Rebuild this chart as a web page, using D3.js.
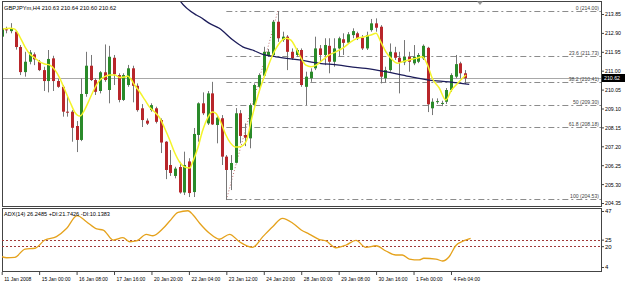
<!DOCTYPE html>
<html>
<head>
<meta charset="utf-8">
<script src="https://cdn.jsdelivr.net/npm/d3@7/dist/d3.min.js"></script>
<style>
body { margin: 0; background: #fff; }
svg text { font-family: "Liberation Sans", Arial, sans-serif; font-size: 6px; fill: #000; }
</style>
</head>
<body>
<div id="chart"></div>
<script>
// GBPJPYm H4 candles
const opens = [212.71,213.08,212.99,212.96,212.19,210.93,211.45,211.82,211.45,211.03,
  210.48,211.62,210.48,210.19,208.94,208.94,208.22,207.52,209.83,211.25,
  210.53,209.98,210.92,210.03,211.65,210.78,209.53,210.28,211.12,210.24,
  209.11,208.49,209.02,209.11,208.52,207.43,206.26,205.71,206.16,204.88,
  206.44,204.90,207.77,209.36,208.35,209.86,208.27,208.61,206.68,206.01,
  206.37,208.86,207.77,207.60,209.27,210.19,210.75,211.75,211.79,213.46,
  212.54,212.71,211.95,211.79,212.04,210.19,210.62,211.12,212.12,211.79,
  212.25,211.45,212.12,212.58,212.41,212.79,212.88,212.66,212.12,213.04,
  213.38,213.21,210.62,211.03,211.92,211.65,211.42,211.70,211.37,211.45,
  211.62,212.15,209.11,209.44,209.36,209.44,210.03,210.70,211.37,210.87];
const highs = [213.19,213.21,213.39,213.04,212.29,211.95,212.04,211.92,211.54,211.20,
  212.04,211.75,210.58,210.28,209.69,209.02,208.47,210.62,211.95,211.79,
  210.62,210.98,212.32,212.25,211.79,210.87,210.87,211.29,211.25,210.36,
  209.32,208.60,209.36,209.19,208.60,207.46,207.01,206.17,206.42,206.93,
  206.60,208.12,209.41,209.91,209.98,210.44,208.77,208.77,206.76,206.76,
  209.12,209.02,208.35,209.36,210.36,210.87,212.20,212.09,213.55,214.00,
  212.96,212.79,212.12,212.12,212.12,210.95,211.12,212.71,212.29,212.63,
  212.63,212.63,212.71,212.88,212.94,213.13,212.96,212.79,212.96,213.60,
  213.63,213.29,211.20,212.37,212.20,211.95,212.54,211.95,212.29,211.89,
  212.32,212.20,209.61,209.61,209.49,210.13,210.87,211.79,211.45,211.03];
const lows = [212.64,212.88,212.88,212.06,210.78,210.70,211.32,211.28,210.98,209.98,
  209.91,209.98,210.14,208.69,208.69,207.43,206.91,207.46,209.69,210.48,
  209.78,209.86,210.44,209.36,210.28,209.41,209.48,210.19,209.41,208.94,
  208.17,208.27,208.94,208.35,206.86,205.55,205.71,205.59,204.82,204.75,
  204.65,204.65,207.43,208.77,208.27,208.27,207.35,206.26,204.50,205.00,
  206.34,207.35,207.21,207.10,209.19,210.11,210.70,211.69,211.70,212.45,
  212.45,211.03,211.54,211.70,210.19,209.27,210.44,211.03,211.45,211.28,
  210.87,211.20,211.70,211.79,212.37,212.63,212.54,212.04,212.04,212.96,
  212.96,210.36,210.41,210.95,211.54,209.86,211.28,210.95,211.28,211.38,
  211.54,208.92,208.77,209.33,209.22,209.33,209.94,210.62,210.62,210.33];
const closes = [213.13,213.06,213.12,212.19,210.93,211.45,211.92,211.57,211.03,210.48,
  211.59,210.48,210.19,208.94,208.92,208.13,207.52,209.83,211.25,210.53,
  209.94,210.92,210.53,211.70,210.82,209.53,210.78,211.12,210.24,209.02,
  208.52,208.34,209.27,208.43,207.39,206.01,205.86,206.08,204.88,206.26,
  204.85,207.82,209.36,208.86,209.86,208.30,208.64,206.68,206.01,206.36,
  208.86,207.72,207.63,209.27,210.28,210.78,211.95,211.95,213.46,212.63,
  212.71,211.95,211.62,212.04,210.28,210.70,210.95,212.12,211.79,212.29,
  211.45,212.12,212.63,212.40,212.83,212.99,212.63,212.12,212.79,213.38,
  213.16,210.70,211.03,211.95,211.65,211.42,211.70,211.45,211.70,211.79,
  212.25,209.31,209.44,209.47,209.38,210.03,210.78,211.33,210.87,210.62];

// yellow fast MA (bar position, price)
const fastPos = [0,1.8,2.8,3.9,5,6,7.1,8.2,9.2,10.3,11.4,12.4,13.5,14.6,15.6,16.7,17.8,18.8,19.9,21,
  22,23.1,24.2,25.2,26.3,26.9,27.6,28.4,29.5,30.6,31.6,32.7,33.8,34.8,35.9,36.9,38,39.1,40.2,40.8,
  41.9,42.9,44,45,45.7,46.8,47.8,48.9,50,51,52.2,53.6,55,56.5,57.9,59.3,60.8,61.8,62.9,64,
  65,66.1,67.2,68.6,70,71.4,72.8,74.6,76,77.5,78.9,80,81,82.1,83.2,84.6,85.6,87,88.5,89.9,
  91,92,93.5,94.9,96,97.4,99.2];
const fastVal = [213.09,213.13,213.09,212.69,212.19,211.84,211.64,211.43,211.34,211.28,211.03,210.63,210.03,209.43,208.92,208.72,209.07,209.58,210.13,210.53,
  210.70,210.78,210.78,210.66,210.68,210.73,210.58,210.28,209.93,209.53,209.17,208.92,208.62,208.12,207.52,206.91,206.41,206.16,206.11,206.41,
  207.11,207.97,208.62,208.92,208.87,208.42,207.82,207.36,207.16,207.18,207.43,208.77,209.94,210.95,211.79,212.37,212.63,212.54,212.12,211.62,
  211.28,211.20,211.28,211.54,211.79,211.95,212.12,212.45,212.63,212.71,212.79,212.88,212.45,211.95,211.62,211.37,211.45,211.54,211.62,211.70,
  211.28,210.62,210.13,209.53,209.98,210.36,210.78];

// navy slow MA
const slowPos = [37,38,41.6,42.3,44.4,46.5,49.4,51.5,53.6,55.8,58.6,63.6,67.9,72.1,74.3,77.8,82.1,87,91.3,95.6,99.9];
const slowVal = [214.95,214.55,213.80,213.71,213.38,213.13,212.54,212.20,212.04,211.82,211.70,211.54,211.37,211.28,211.20,211.12,210.95,210.71,210.53,210.44,210.31];

// ADX(14)
const adxPos = [0,1.1,2.8,5,7.1,9.2,11.7,13.9,16.1,18.1,20.3,21.7,23.8,25.9,27.4,28.8,30.9,32.3,34.5,35.9,
  37.7,39.8,40.9,42.3,44.4,46.5,48.7,50.8,53.6,55.8,57.9,60,62.2,64,65.7,67.9,69.3,71.4,73.6,75.7,
  77.8,80,82.1,84.2,85.6,87.1,89.2,90.2,92.8,94.2,95.6,97,99.1,100.2];
const adxVal = [11.9,11.1,11.4,17.8,18.4,24.7,27.3,33.7,43.4,38.8,33.2,32.4,24.7,26.5,23.4,24.0,29.1,28.0,33.7,39.3,
  46.0,47.2,43.9,37.6,29.9,25.3,29.1,23.4,19.1,27.3,34.9,41.4,37.6,32.4,29.3,25.1,24.0,18.8,20.9,24.5,
  19.1,20.3,16.3,13.2,13.2,10.1,9.4,10.7,10.1,8.6,11.9,20.3,24.7,26.0];

const priceTicks = [213.85,212.90,211.95,211.00,210.05,209.10,208.15,207.20,206.25,205.30,204.35];
const adxTicks = [47,25,20,4];
const adxLevels = [25,20];
const fibLabels = ["0 (214.00)","23.6 (211.73)","38.2 (210.41)","50 (209.30)","61.8 (208.18)","100 (204.53)"];
const fibValues = [214.00,211.73,210.41,209.30,208.18,204.53];
const timeTicks = [0,8,16,24,32,40,48,56,64,72,80,88,96];
const timeLabels = ["11 Jan 2008","15 Jan 00:00","16 Jan 08:00","17 Jan 16:00","20 Jan 20:00","22 Jan 04:00",
  "23 Jan 12:00","24 Jan 20:00","28 Jan 00:00","29 Jan 08:00","30 Jan 16:00","1 Feb 00:00","4 Feb 04:00"];
const lastPrice = 210.62;

var width = 625, height = 282;
var left = 2, right = 601;
var mainTop = 1, mainBottom = 206, adxTop = 208, adxBottom = 271;

const svg = d3.select("#chart").append("svg")
    .attr("width", width).attr("height", height);
svg.append("rect").attr("width", width).attr("height", height).attr("fill", "#fff");

const x = d3.scaleLinear().domain([0, 99]).range([1.7, 1.7 + 99 * 4.68]);
const y = d3.scaleLinear().domain([204.35, 213.85]).range([203, 14]);
const ya = d3.scaleLinear().domain([4, 47]).range([267, 211]);

function squeeze(sel, k) {
    sel.each(function () {
        var w = this.getComputedTextLength();
        this.setAttribute("textLength", w * k);
        this.setAttribute("lengthAdjust", "spacingAndGlyphs");
    });
}

var defs = svg.append("defs");
defs.append("clipPath").attr("id", "clipMain").append("rect")
    .attr("x", left).attr("y", mainTop).attr("width", right - left).attr("height", mainBottom - mainTop);
defs.append("clipPath").attr("id", "clipAdx").append("rect")
    .attr("x", left).attr("y", adxTop).attr("width", right - left).attr("height", adxBottom - adxTop);

const main = svg.append("g").attr("clip-path", "url(#clipMain)");

// current price line
main.append("line")
    .attr("x1", left).attr("x2", right)
    .attr("y1", Math.round(y(lastPrice)) + 0.5).attr("y2", Math.round(y(lastPrice)) + 0.5)
    .attr("stroke", "#a8a8a8").attr("stroke-width", 1);

// fibo levels
const fibStart = x(48);
main.selectAll(".fib").data(fibValues).enter().append("line")
    .attr("x1", fibStart).attr("x2", right)
    .attr("y1", d => Math.round(y(d)) + 0.5).attr("y2", d => Math.round(y(d)) + 0.5)
    .attr("stroke", "#8c8c8c").attr("stroke-width", 1)
    .attr("stroke-dasharray", "6,3,2,3");

const fibText = main.selectAll(".fibt").data(fibValues).enter().append("text")
    .attr("x", right - 2).attr("y", d => Math.round(y(d)) - 1)
    .attr("text-anchor", "end")
    .style("fill", "#444")
    .text((d, i) => fibLabels[i]);
squeeze(fibText, 0.85);

// trend line low -> high
main.append("line")
    .attr("x1", x(48)).attr("y1", y(d3.min(lows)))
    .attr("x2", x(59)).attr("y2", y(d3.max(highs)))
    .attr("stroke", "#c07070").attr("stroke-width", 1)
    .attr("stroke-dasharray", "1,2");

// candles
const bars = d3.range(opens.length);
main.selectAll(".wick").data(bars).enter().append("line")
    .attr("x1", i => Math.round(x(i)) + 0.5).attr("x2", i => Math.round(x(i)) + 0.5)
    .attr("y1", i => y(highs[i])).attr("y2", i => y(lows[i]))
    .attr("stroke", "#777").attr("stroke-width", 1);

main.selectAll(".body").data(bars).enter().append("rect")
    .attr("x", i => Math.round(x(i)) - 1)
    .attr("width", 3)
    .attr("y", i => y(Math.max(opens[i], closes[i])))
    .attr("height", i => Math.max(1, Math.abs(y(opens[i]) - y(closes[i]))))
    .attr("fill", i => closes[i] > opens[i] ? "#2a8a2a" : (closes[i] < opens[i] ? "#b8262a" : "#333"));

// moving averages
const lineP = d3.line().x(d => x(d[0])).y(d => y(d[1])).curve(d3.curveMonotoneX);
main.append("path")
    .datum(slowPos.map((p, i) => [p, slowVal[i]]))
    .attr("d", lineP).attr("fill", "none")
    .attr("stroke", "#1c1c5a").attr("stroke-width", 1.3);
main.append("path")
    .datum(fastPos.map((p, i) => [p, fastVal[i]]))
    .attr("d", lineP).attr("fill", "none")
    .attr("stroke", "#f4f42a").attr("stroke-width", 1.5);

// panel frames
svg.append("rect").attr("x", left + 0.5).attr("y", mainTop + 0.5)
    .attr("width", right - left).attr("height", mainBottom - mainTop)
    .attr("fill", "none").attr("stroke", "#444");
svg.append("rect").attr("x", left + 0.5).attr("y", adxTop + 0.5)
    .attr("width", right - left).attr("height", adxBottom - adxTop)
    .attr("fill", "none").attr("stroke", "#444");

// chart shift marker
svg.append("path")
    .attr("d", "M" + 477 + ",1.5L" + 483 + ",1.5L" + 480 + ",5Z")
    .attr("fill", "#9a9a9a");

// price axis
const yAxisG = svg.append("g")
    .attr("transform", "translate(" + right + ",0)")
    .call(d3.axisRight(y).tickValues(priceTicks).tickSize(3).tickPadding(1).tickFormat(d3.format(".2f")));
yAxisG.select(".domain").remove();
yAxisG.selectAll("line").attr("stroke", "#444");
yAxisG.selectAll("text").attr("font-size", null).attr("font-family", null);
squeeze(yAxisG.selectAll("text"), 0.87);

// last price box
svg.append("rect").attr("x", 602).attr("y", Math.round(y(lastPrice)) - 4)
    .attr("width", 23).attr("height", 8).attr("fill", "#000");
svg.append("text").attr("x", 604).attr("y", Math.round(y(lastPrice)) + 2)
    .style("fill", "#fff").text(lastPrice.toFixed(2))
    .call(squeeze, 0.87);

// header
svg.append("text").attr("x", 4).attr("y", 10)
    .text("GBPJPYm,H4 210.63 210.64 210.60 210.62")
    .call(squeeze, 0.95);

// ADX panel
const adxG = svg.append("g").attr("clip-path", "url(#clipAdx)");
adxG.selectAll(".lvl").data(adxLevels).enter().append("line")
    .attr("x1", left).attr("x2", right)
    .attr("y1", d => Math.round(ya(d)) + 0.5).attr("y2", d => Math.round(ya(d)) + 0.5)
    .attr("stroke", "#a03a3a").attr("stroke-width", 1)
    .attr("stroke-dasharray", "2,2");
adxG.append("path")
    .datum(adxPos.map((p, i) => [p, adxVal[i]]))
    .attr("d", d3.line().x(d => x(d[0])).y(d => ya(d[1])).curve(d3.curveMonotoneX))
    .attr("fill", "none").attr("stroke", "#e5a21c").attr("stroke-width", 1.3);

svg.append("text").attr("x", 4).attr("y", 216)
    .text("ADX(14) 26.2485 +DI:21.7426 -DI:10.1383")
    .call(squeeze, 0.93);

const aAxisG = svg.append("g")
    .attr("transform", "translate(" + right + ",0)")
    .call(d3.axisRight(ya).tickValues(adxTicks).tickSize(3).tickPadding(1));
aAxisG.select(".domain").remove();
aAxisG.selectAll("line").attr("stroke", "#444");
aAxisG.selectAll("text").attr("font-size", null).attr("font-family", null);

// time axis
const xAxisG = svg.append("g")
    .attr("transform", "translate(0," + (adxBottom + 1) + ")")
    .call(d3.axisBottom(x).tickValues(timeTicks).tickSize(3).tickFormat((d, i) => timeLabels[i]));
xAxisG.select(".domain").remove();
xAxisG.selectAll("line").attr("stroke", "#444");
xAxisG.selectAll("text")
    .attr("font-size", null).attr("font-family", null)
    .attr("text-anchor", "start").attr("x", 2).attr("dy", "0.45em");
squeeze(xAxisG.selectAll("text"), 0.83);
</script>
</body>
</html>
